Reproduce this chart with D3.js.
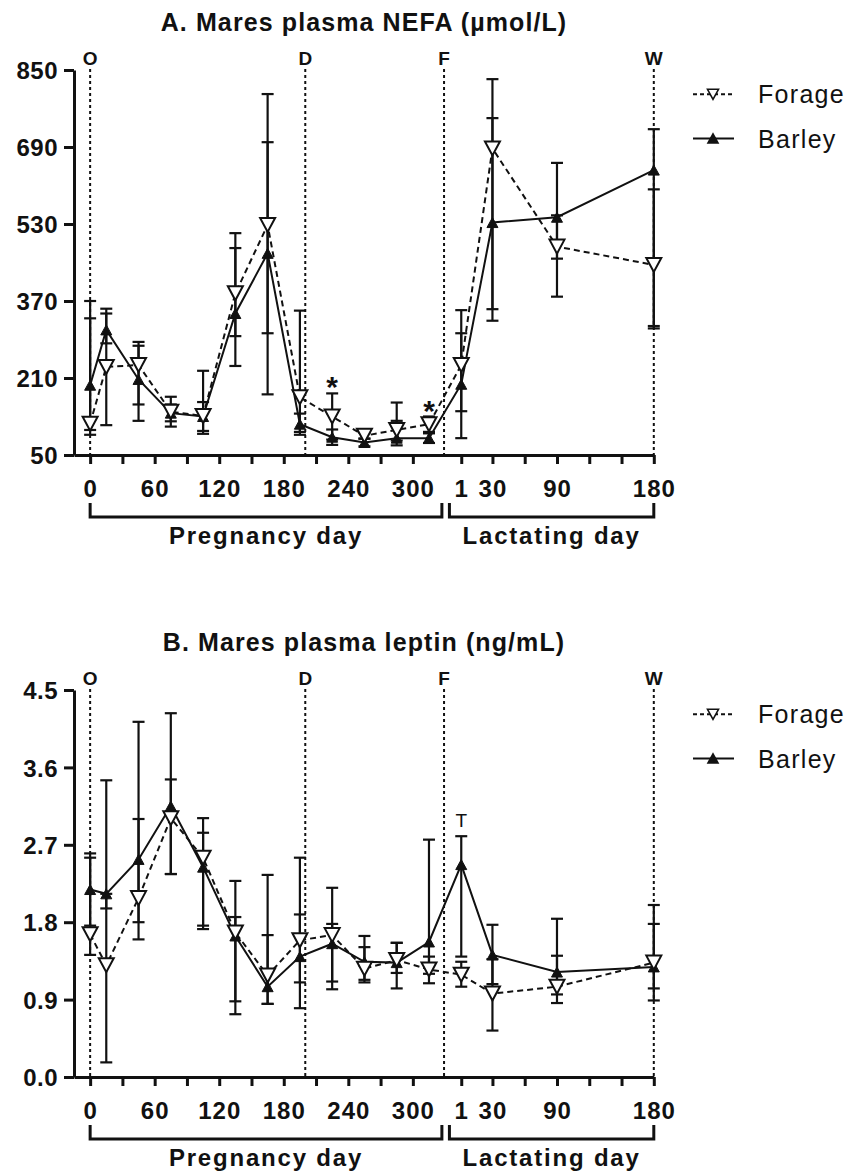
<!DOCTYPE html>
<html>
<head>
<meta charset="utf-8">
<script src="https://cdn.jsdelivr.net/npm/d3@7"></script>
<style>
  body { margin: 0; background: #fff; }
  text { font-family: "Liberation Sans", Arial, sans-serif; fill: #111; }
</style>
</head>
<body>
<svg id="chart" width="851" height="1173"></svg>
<script>
// sampling days: pregnancy days, then lactating days (shifted onto the same axis)
const pregDays = [0, 15, 45, 75, 105, 135, 165, 195, 225, 255, 285, 315];
const lactDays = [1, 30, 90, 180];
const LACT_SHIFT = 344;

const pregTicks = [0, 30, 60, 90, 120, 150, 180, 210, 240, 270, 300];
const pregTickLabels = ['0', '', '60', '', '120', '', '180', '', '240', '', '300'];
const lactTicks = [1, 30, 60, 90, 120, 150, 180];
const lactTickLabels = ['1', '30', '', '90', '', '', '180'];

// O = ovulation, D = diet start, F = foaling, W = weaning (axis units)
const eventDays = [0, 200, 329, 180 + LACT_SHIFT];
const eventLabels = ['O', 'D', 'F', 'W'];

// A. NEFA (umol/L)
const nefaForage   = [115, 233, 237, 140, 131, 386, 528, 170, 130, 90, 102, 114, 237, 687, 483, 445];
const nefaForageLo = [92, 112, 155, 109, 100, 297, 303, 98, 82, 84, 80, 98, 141, 353, 379, 313];
const nefaForageHi = [334, 354, 285, 171, 225, 480, 700, 350, 178, 96, 159, 130, 351, 831, 548, 602];
const nefaBarley   = [195, 310, 207, 137, 130, 344, 469, 114, 87, 76, 85, 85, 197, 533, 544, 642];
const nefaBarleyLo = [102, 282, 121, 120, 94, 235, 176, 92, 71, 68, 70, 75, 85, 329, 458, 318];
const nefaBarleyHi = [370, 344, 277, 155, 160, 511, 800, 136, 103, 84, 121, 95, 303, 750, 657, 727];
const nefaTicks = [50, 210, 370, 530, 690, 850];
const nefaMarks = [[8, '*'], [11, '*']];   // [point index, symbol] above Forage

// B. leptin (ng/mL)
const lepForage   = [1.66, 1.30, 2.08, 3.01, 2.55, 1.68, 1.18, 1.59, 1.65, 1.26, 1.36, 1.25, 1.19, 0.97, 1.05, 1.33];
const lepForageLo = [1.42, 0.17, 1.80, 2.36, 1.76, 0.88, 0.85, 0.80, 1.11, 1.13, 1.21, 1.09, 1.05, 0.54, 0.96, 0.89];
const lepForageHi = [2.55, 2.13, 3.00, 3.46, 3.01, 2.28, 2.35, 2.55, 2.20, 1.51, 1.56, 1.40, 1.34, 1.37, 1.41, 2.00];
const lepBarley   = [2.18, 2.13, 2.53, 3.15, 2.44, 1.64, 1.05, 1.40, 1.55, 1.34, 1.33, 1.57, 2.47, 1.42, 1.22, 1.28];
const lepBarleyLo = [1.76, 1.96, 1.60, 2.36, 1.72, 0.73, 0.85, 1.10, 1.02, 1.10, 1.03, 1.20, 1.40, 1.08, 0.86, 1.03];
const lepBarleyHi = [2.60, 3.45, 4.13, 4.23, 2.84, 1.86, 1.65, 1.89, 1.78, 1.64, 1.56, 2.76, 2.80, 1.77, 1.84, 1.78];
const lepTicks = [0, 0.9, 1.8, 2.7, 3.6, 4.5];
const lepMarks = [[12, 'T', 'barley']];

const days = pregDays.concat(lactDays.map(d => d + LACT_SHIFT));
const svg = d3.select('#chart');

function downTri(w, h) {
  return `M${-w / 2},${-h / 2}L${w / 2},${-h / 2}L0,${h / 2}Z`;
}
function upTri(w, h) {
  return `M${-w / 2},${h / 2}L${w / 2},${h / 2}L0,${-h / 2}Z`;
}

function drawPanel(cfg) {
  const g = svg.append('g');
  const x = d3.scaleLinear().domain([-15, 180 + LACT_SHIFT]).range([74, 653.8]);
  const y = d3.scaleLinear().domain(cfg.yDomain).range(cfg.yRange);
  const base = cfg.yRange[0];
  const top = cfg.yRange[1];

  // title
  g.append('text')
    .attr('x', 364).attr('y', top - 39)
    .attr('text-anchor', 'middle')
    .attr('font-size', 25).attr('font-weight', 'bold')
    .attr('letter-spacing', 1.1)
    .text(cfg.title);

  // event lines + letters
  eventDays.forEach((d, i) => {
    g.append('line')
      .attr('x1', x(d)).attr('x2', x(d))
      .attr('y1', top - 1).attr('y2', base)
      .attr('stroke', '#111').attr('stroke-width', 2)
      .attr('stroke-dasharray', '3,3');
    g.append('text')
      .attr('x', x(d)).attr('y', top - 5)
      .attr('text-anchor', 'middle')
      .attr('font-size', 19).attr('font-weight', 'bold')
      .text(eventLabels[i]);
  });

  // y axis
  const ya = g.append('g')
    .attr('transform', `translate(${x(-15)},0)`)
    .call(d3.axisLeft(y).tickValues(cfg.yTicks).tickSize(10).tickSizeOuter(0).tickFormat(cfg.yFormat));

  // x axis
  const tickPos = pregTicks.concat(lactTicks.map(d => d + LACT_SHIFT));
  const tickLab = pregTickLabels.concat(lactTickLabels);
  const xa = g.append('g')
    .attr('transform', `translate(0,${base})`)
    .call(d3.axisBottom(x).tickValues(tickPos).tickSize(9).tickSizeOuter(0)
      .tickFormat((d, i) => tickLab[i]));

  [ya, xa].forEach(a => {
    a.attr('font-family', null).attr('font-size', null);
    a.select('.domain').attr('stroke', '#111').attr('stroke-width', 3);
    a.selectAll('.tick line').attr('stroke', '#111').attr('stroke-width', 3);
    a.selectAll('.tick text')
      .attr('fill', '#111')
      .attr('font-size', 24).attr('font-weight', 'bold');
  });
  ya.selectAll('.tick text').attr('x', -16).attr('dy', '0.36em').attr('letter-spacing', 0.5);
  xa.selectAll('.tick text').attr('y', 42).attr('dy', 0).attr('letter-spacing', 1);

  // brackets under the axis
  const brackets = [[0, 327, 'Pregnancy day'], [334, 180 + LACT_SHIFT, 'Lactating day']];
  brackets.forEach(([a, b, label]) => {
    g.append('path')
      .attr('d', `M${x(a)},${base + 48}V${base + 62}H${x(b)}V${base + 48}`)
      .attr('fill', 'none').attr('stroke', '#111').attr('stroke-width', 3);
    g.append('text')
      .attr('x', x((a + b) / 2)).attr('y', base + 88.5)
      .attr('text-anchor', 'middle')
      .attr('font-size', 24).attr('font-weight', 'bold')
      .attr('letter-spacing', 1.8)
      .text(label);
  });

  const forage = days.map((d, i) => ({ d, v: cfg.forage[i], lo: cfg.forageLo[i], hi: cfg.forageHi[i] }));
  const barley = days.map((d, i) => ({ d, v: cfg.barley[i], lo: cfg.barleyLo[i], hi: cfg.barleyHi[i] }));

  // error bars
  [barley, forage].forEach(series => {
    const eb = g.append('g').attr('stroke', '#111').attr('stroke-width', 2.2);
    series.forEach(p => {
      const px = x(p.d);
      eb.append('line').attr('x1', px).attr('x2', px).attr('y1', y(p.lo)).attr('y2', y(p.hi));
      [p.lo, p.hi].forEach(val => {
        eb.append('line').attr('x1', px - 6).attr('x2', px + 6).attr('y1', y(val)).attr('y2', y(val));
      });
    });
  });

  const line = d3.line().x(p => x(p.d)).y(p => y(p.v));
  g.append('path').datum(barley).attr('d', line)
    .attr('fill', 'none').attr('stroke', '#111').attr('stroke-width', 2);
  g.append('path').datum(forage).attr('d', line)
    .attr('fill', 'none').attr('stroke', '#111').attr('stroke-width', 2)
    .attr('stroke-dasharray', '6,4');

  g.selectAll('.barley-pt').data(barley).enter().append('path')
    .attr('class', 'barley-pt')
    .attr('transform', p => `translate(${x(p.d)},${y(p.v)})`)
    .attr('d', upTri(11, 10)).attr('fill', '#111').attr('stroke', '#111').attr('stroke-width', 1);
  g.selectAll('.forage-pt').data(forage).enter().append('path')
    .attr('class', 'forage-pt')
    .attr('transform', p => `translate(${x(p.d)},${y(p.v)})`)
    .attr('d', downTri(15, 14)).attr('fill', '#fff').attr('stroke', '#111').attr('stroke-width', 2);

  // significance marks
  cfg.marks.forEach(([i, sym, which]) => {
    const p = which === 'barley' ? barley[i] : forage[i];
    const big = sym === '*';
    g.append('text')
      .attr('x', x(p.d))
      .attr('y', y(p.hi) - (big ? -4 : 9))
      .attr('text-anchor', 'middle')
      .attr('font-size', big ? 30 : 19)
      .attr('font-weight', big ? 'bold' : 'normal')
      .text(sym);
  });

  // legend
  const lg = g.append('g');
  const rows = [
    { name: 'Forage', dash: '4,3', sym: downTri(11, 10), fill: '#fff' },
    { name: 'Barley', dash: null, sym: upTri(10, 9), fill: '#111' }
  ];
  rows.forEach((r, i) => {
    const ly = top + 24.3 + i * 44.2;
    lg.append('line').attr('x1', 693).attr('x2', 734).attr('y1', ly).attr('y2', ly)
      .attr('stroke', '#111').attr('stroke-width', 2).attr('stroke-dasharray', r.dash);
    lg.append('path').attr('transform', `translate(713,${ly})`).attr('d', r.sym)
      .attr('fill', r.fill).attr('stroke', '#111').attr('stroke-width', 1.6);
    lg.append('text').attr('x', 758).attr('y', ly + 9)
      .attr('font-size', 25).attr('letter-spacing', 1.3)
      .text(r.name);
  });
}

drawPanel({
  title: 'A. Mares plasma NEFA (µmol/L)',
  yDomain: [50, 850], yRange: [455, 70], yTicks: nefaTicks, yFormat: d3.format('d'),
  forage: nefaForage, forageLo: nefaForageLo, forageHi: nefaForageHi,
  barley: nefaBarley, barleyLo: nefaBarleyLo, barleyHi: nefaBarleyHi,
  marks: nefaMarks
});

drawPanel({
  title: 'B. Mares plasma leptin (ng/mL)',
  yDomain: [0, 4.5], yRange: [1077, 690], yTicks: lepTicks, yFormat: d3.format('.1f'),
  forage: lepForage, forageLo: lepForageLo, forageHi: lepForageHi,
  barley: lepBarley, barleyLo: lepBarleyLo, barleyHi: lepBarleyHi,
  marks: lepMarks
});
</script>
</body>
</html>
